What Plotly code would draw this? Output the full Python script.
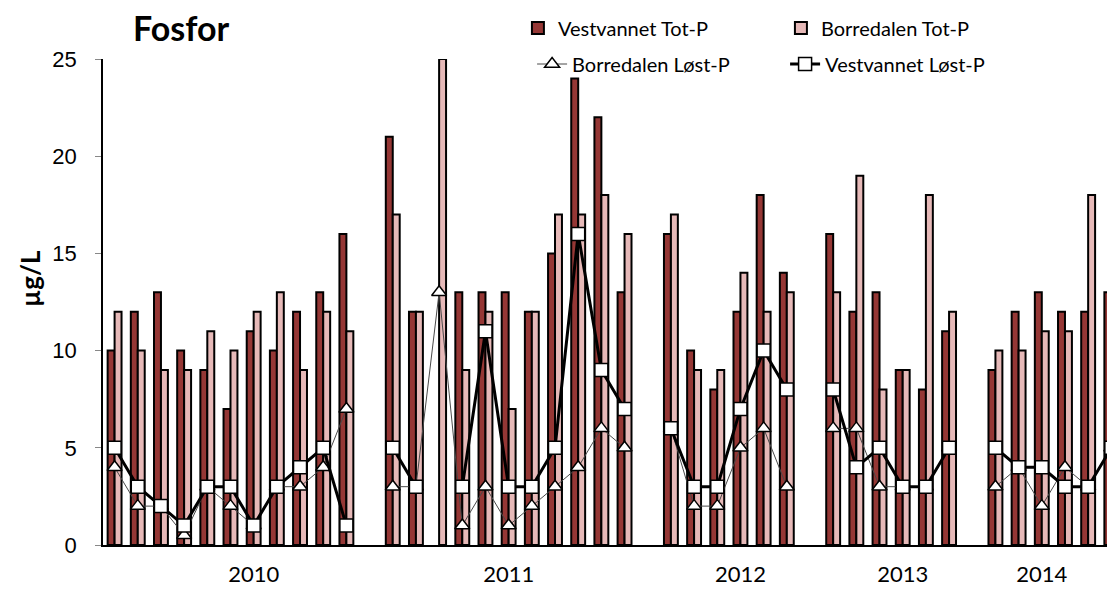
import plotly.graph_objects as go

# sampling rounds per year (one list per year)
years = ['2010', '2011', '2012', '2013', '2014']
year_label_at = [6, 5, 3, 3, 2]   # which sample in each year carries the year label

vest_tot = [
    [10, 12, 13, 10, 9, 7, 11, 10, 12, 13, 16],
    [21, 12, None, 13, 13, 13, 12, 15, 24, 22, 13],
    [16, 10, 8, 12, 18, 14],
    [16, 12, 13, 9, 8, 11],
    [9, 12, 13, 12, 12, 13],
]
borr_tot = [
    [12, 10, 9, 9, 11, 10, 12, 13, 9, 12, 11],
    [17, 12, 25, 9, 12, 7, 12, 17, 17, 18, 16],
    [17, 9, 9, 14, 12, 13],
    [13, 19, 8, 9, 18, 12],
    [10, 10, 11, 11, 18, None],
]
borr_lost = [
    [4, 2, 2, 0.5, 3, 2, 1, 3, 3, 4, 7],
    [3, 3, 13, 1, 3, 1, 2, 3, 4, 6, 5],
    [6, 2, 2, 5, 6, 3],
    [6, 6, 3, 3, 3, 5],
    [3, 4, 2, 4, 3, 5],
]
vest_lost = [
    [5, 3, 2, 1, 3, 3, 1, 3, 4, 5, 1],
    [5, 3, None, 3, 11, 3, 3, 5, 16, 9, 7],
    [6, 3, 3, 7, 10, 8],
    [8, 4, 5, 3, 3, 5],
    [5, 4, 4, 3, 3, 5],
]


def flatten(groups):
    # one empty category between years, like in the spreadsheet
    out = []
    for i, g in enumerate(groups):
        if i > 0:
            out.append(None)
        out.extend(g)
    return out


ticktext = []
for i, g in enumerate(vest_tot):
    if i > 0:
        ticktext.append('')
    ticktext.extend([years[i] if k == year_label_at[i] else '' for k in range(len(g))])

x = list(range(len(ticktext)))

DARK = '#953735'
PINK = '#E6B9B8'

fig = go.Figure()
fig.add_trace(go.Bar(x=x, y=flatten(vest_tot), name='Vestvannet Tot-P',
                     marker=dict(color=DARK, line=dict(color='black', width=2)),
                     legend='legend'))
fig.add_trace(go.Bar(x=x, y=flatten(borr_tot), name='Borredalen Tot-P',
                     marker=dict(color=PINK, line=dict(color='black', width=2)),
                     legend='legend'))
fig.add_trace(go.Scatter(x=x, y=flatten(borr_lost), name='Borredalen Løst-P',
                         mode='lines+markers', connectgaps=False,
                         line=dict(color='#4a4a4a', width=1),
                         marker=dict(symbol='triangle-up', size=13, color='white',
                                     line=dict(color='black', width=1.5)),
                         legend='legend2'))
fig.add_trace(go.Scatter(x=x, y=flatten(vest_lost), name='Vestvannet Løst-P',
                         mode='lines+markers', connectgaps=False,
                         line=dict(color='black', width=3),
                         marker=dict(symbol='square', size=13, color='white',
                                     line=dict(color='black', width=1.5)),
                         legend='legend2'))

# page has an 8px body margin, so the figure is 8px smaller than the window
leg_font = dict(family='Lato', size=20, color='black')
fig.update_layout(
    width=1107, height=581,
    margin=dict(l=95, r=0, t=51, b=44, autoexpand=False),
    plot_bgcolor='white', paper_bgcolor='white',
    barmode='group', bargap=0.4, bargroupgap=0,
    legend=dict(orientation='h', x=0.41, xanchor='left', y=(545 - 28) / 486, yanchor='middle',
                entrywidth=218, font=leg_font, bgcolor='rgba(0,0,0,0)'),
    legend2=dict(orientation='h', x=0.424, xanchor='left', y=(545 - 64) / 486, yanchor='middle',
                 entrywidth=208, font=leg_font, bgcolor='rgba(0,0,0,0)'),
    xaxis=dict(range=[-0.5, -0.5 + 1012 / 23.18], tickmode='array', tickvals=x, ticktext=ticktext,
               showline=True, linecolor='black', linewidth=1.5, ticks='', showgrid=False,
               zeroline=False, ticklabelstandoff=9,
               tickfont=dict(family='Lato', size=22, color='black')),
    yaxis=dict(range=[0, 25], dtick=5, showline=True, linecolor='black', linewidth=1.5,
               ticks='outside', ticklen=6, tickcolor='#888888', showgrid=False, zeroline=False,
               ticklabelstandoff=14,
               tickfont=dict(family='Liberation Sans', size=22, color='black')),
    annotations=[
        dict(text='<b>Fosfor</b>', xref='paper', yref='paper', x=(131 - 103) / 1012,
             y=(545 - 27) / 486, xanchor='left', yanchor='middle', showarrow=False,
             font=dict(family='Lato', size=34, color='black')),
        dict(text='<b>µg/L</b>', xref='paper', yref='paper', x=(30 - 103) / 1012,
             y=(545 - 279) / 486, xanchor='center', yanchor='middle', textangle=-90,
             showarrow=False, font=dict(family='Lato', size=26, color='black')),
    ],
)

fig.write_html('out.html')
